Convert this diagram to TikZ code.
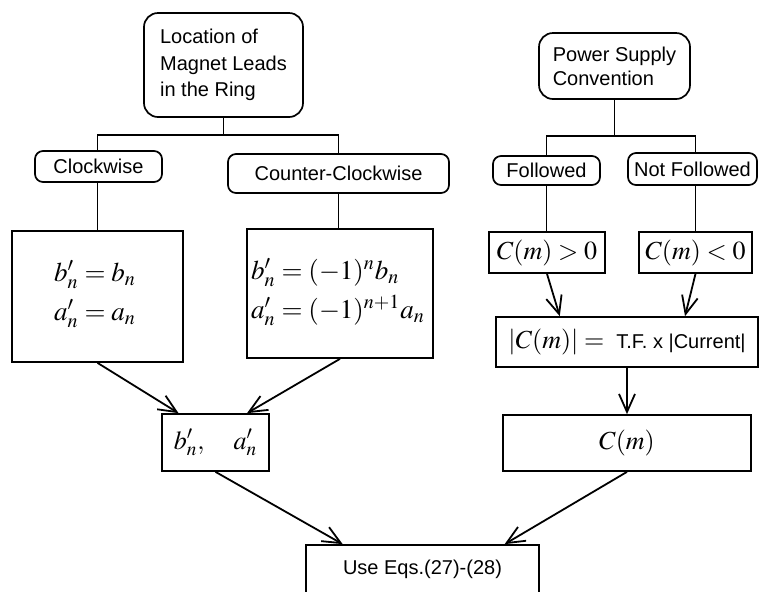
\documentclass[tikz,border=0pt]{standalone}
\usepackage{mathptmx}
\usepackage[no-math]{fontspec}
\setmainfont{Liberation Sans}
\usetikzlibrary{arrows.meta,calc}
\begin{document}
\begin{tikzpicture}[x=0.5pt,y=-0.5pt, line width=0.85pt,
  rbox/.style={draw, rounded corners=4pt, inner sep=0pt, font=\fontsize{10}{12}\selectfont},
  sbox/.style={draw, inner sep=0pt},
  arr/.style={-{Straight Barb[length=9pt,width=8pt]}, line width=0.9pt},
  mth/.style={inner sep=0pt, font=\fontsize{13}{16}\selectfont},
  eqt/.style={inner sep=0pt, font=\fontsize{13.5}{16.5}\selectfont},
  txt/.style={inner sep=0pt, font=\fontsize{10}{12}\selectfont}]
\fill[white] (0,0) rectangle (760,591);
\path[use as bounding box, clip] (0,0) rectangle (760,591);

% top level
\node[rbox, rounded corners=7pt, minimum width=79.5pt, minimum height=52pt, align=left,
      font=\fontsize{10}{13.2}\selectfont] (loc) at (223.5,65) {Location of\\Magnet Leads\\in the Ring};
\node[rbox, rounded corners=7pt, minimum width=75.5pt, minimum height=33pt, align=left,
      font=\fontsize{10}{12}\selectfont] (psc) at (614.5,66) {Power Supply\\Convention};

% second level
\node[rbox, minimum width=63.5pt, minimum height=15.5pt] (cw) at (98.5,166.5) {Clockwise};
\node[rbox, minimum width=110.5pt, minimum height=19.5pt] (ccw) at (338.5,173.5) {Counter-Clockwise};
\node[rbox, minimum width=53.5pt, minimum height=14.5pt] (fol) at (546.5,170.5) {Followed};
\node[rbox, minimum width=64.5pt, minimum height=16pt] (nfol) at (692.5,169) {Not Followed};

% formula boxes
\node[sbox, minimum width=85.5pt, minimum height=65.5pt] (eq1) at (97.5,296.5) {};
\node[eqt, align=left] (eq1t) at (95,294) {$b'_n = b_n$\\[3pt]$a'_n = a_n$};
\node[sbox, minimum width=93pt, minimum height=64.5pt] (eq2) at (340,293.5) {};
\node[eqt, align=left] (eq2t) at (338,292) {$b'_n = (-1)^n b_n$\\[3pt]$a'_n = (-1)^{n+1} a_n$};

\node[sbox, mth, minimum width=58pt, minimum height=20.5pt] (cpos) at (547,252.5) {$C(m) > 0$};
\node[sbox, mth, minimum width=56.5pt, minimum height=20.5pt] (cneg) at (695.5,252.5) {$C(m) < 0$};
\node[sbox, minimum width=131pt, minimum height=25pt] (tf) at (627,342)
  {{\fontsize{13}{16}\selectfont$|C(m)| =$}\hspace{6pt}{\fontsize{10}{12}\selectfont T.F. x |Current|}};

\node[sbox, mth, minimum width=53.5pt, minimum height=28.5pt] (ba) at (215.5,442.5) {$b'_n,\quad a'_n$};
\node[sbox, mth, minimum width=124pt, minimum height=28pt] (cm) at (627,443) {$C(m)$};
\node[sbox, txt, minimum width=116.5pt, minimum height=24pt] (use) at (422.5,569) {Use Eqs.(27)-(28)};

% tree connectors
\draw (loc.south) -- ++(0,17) -| (eq1.north |- cw.north);
\draw (loc.south) -- ++(0,17) -| (ccw.north);
\draw (eq1.north |- cw.south) -- (eq1.north);
\draw (ccw.south) -- (ccw.south |- eq2.north);
\draw (psc.south) -- ++(0,36) -| (fol.north);
\draw (psc.south) -- ++(0,36) -| (cneg.north |- nfol.north);
\draw (fol.south) -- (fol.south |- cpos.north);
\draw (cneg.north |- nfol.south) -- (cneg.north);

% arrows
\draw[arr] (eq1.south) -- ($(ba.north west)!0.16!(ba.north east)$);
\draw[arr] (eq2.south) -- ($(ba.north west)!0.79!(ba.north east)$);
\draw[arr] (cpos.south) -- ($(tf.north west)!0.245!(tf.north east)$);
\draw[arr] (cneg.south) -- ($(tf.north west)!0.72!(tf.north east)$);
\draw[arr] (tf.south) -- (cm.north);
\draw[arr] (ba.south) -- ($(use.north west)!0.16!(use.north east)$);
\draw[arr] (cm.south) -- ($(use.north west)!0.85!(use.north east)$);
\end{tikzpicture}
\end{document}
